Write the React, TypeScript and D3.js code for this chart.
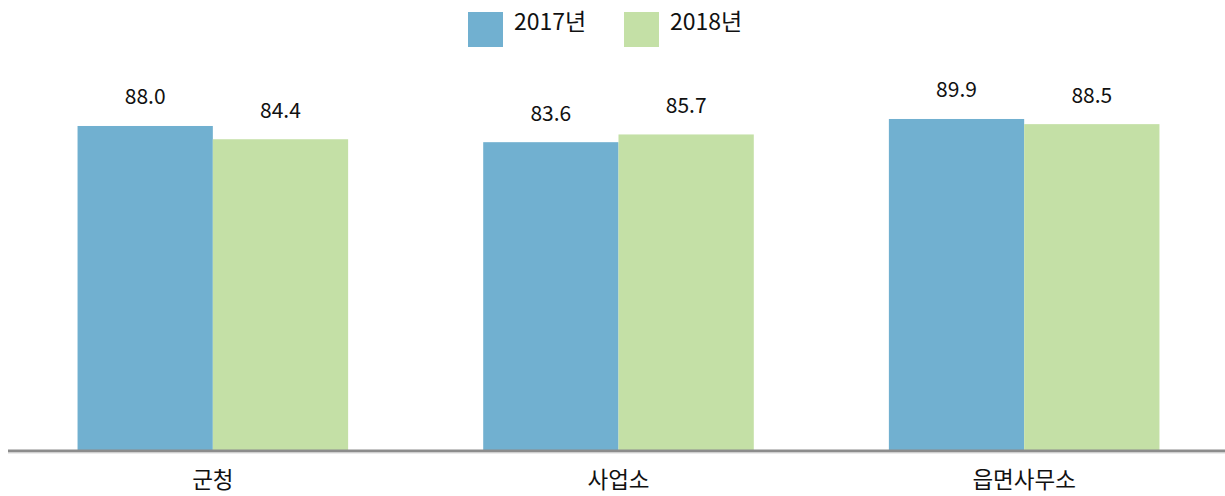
import React from "react";
import * as d3 from "d3";

const categories = ["군청", "사업소", "읍면사무소"];
const seriesNames = ["2017년", "2018년"];
const values2017 = [88.0, 83.6, 89.9];
const values2018 = [84.4, 85.7, 88.5];
const colors = ["#71b0d0", "#c4e0a6"];

const W = 1225;
const H = 496;
const FONT = "'Noto Sans CJK KR', 'Noto Sans', sans-serif";

export default function App() {
  const x0 = d3.scaleBand<string>().domain(categories).range([10, 1227]).paddingInner(0).paddingOuter(0);
  const groupW = x0.step() * 0.667;
  const x1 = d3.scaleBand<string>().domain(seriesNames).range([0, groupW]);
  const y = d3.scaleLinear().domain([0, 100]).range([450, 81.8]);
  const series = [values2017, values2018];

  return (
    <svg width={W} height={H} style={{ position: "absolute", left: 0, top: 0 }} fontFamily={FONT}>
      {categories.map((c, i) => {
        const gx = (x0(c) as number) + (x0.step() - groupW) / 2;
        return (
          <g key={c}>
            {seriesNames.map((s, j) => {
              const v = series[j][i];
              const bx = gx + (x1(s) as number);
              return (
                <g key={s}>
                  <rect x={bx} y={y(v)} width={x1.bandwidth()} height={y(0) - y(v)} fill={colors[j]} />
                  <text x={bx + x1.bandwidth() / 2} y={y(v) - 21.5} textAnchor="middle" fontSize={21} fill="#111">
                    {v.toFixed(1)}
                  </text>
                </g>
              );
            })}
            <text x={gx + groupW / 2} y={488} textAnchor="middle" fontSize={22.5} fill="#111">
              {c}
            </text>
          </g>
        );
      })}
      <line x1={8} x2={1225} y1={451} y2={451} stroke="#8c8c8c" strokeWidth={3} />
      <line x1={8} x2={1225} y1={453} y2={453} stroke="#d9d9d9" strokeWidth={1} />
      {seriesNames.map((s, j) => (
        <g key={s} transform={`translate(${468 + j * 156},12)`}>
          <rect x={0} y={0} width={35} height={35} fill={colors[j]} />
          <text x={46} y={17.5} fontSize={23} fill="#111">
            {s}
          </text>
        </g>
      ))}
    </svg>
  );
}
